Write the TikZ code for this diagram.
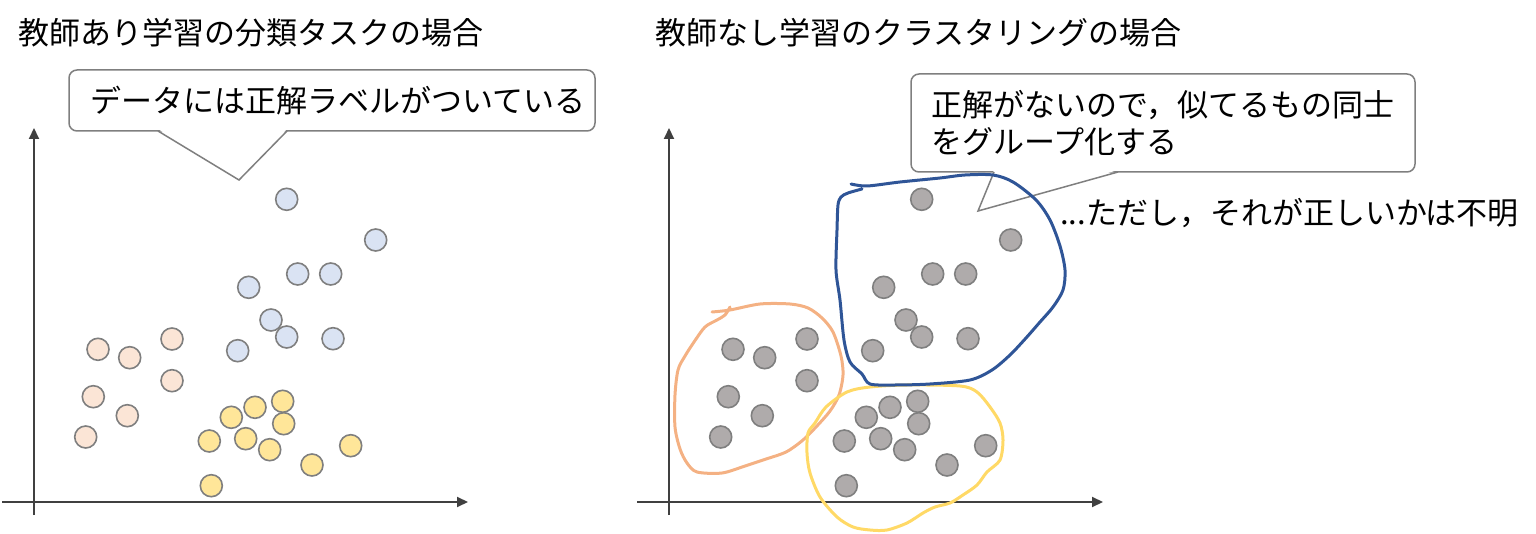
\documentclass[tikz,border=0pt]{standalone}
\usepackage{fontspec}
\setmainfont{Noto Sans CJK JP}
\usepackage{xcolor}
\usepackage{tikz}
\usetikzlibrary{arrows.meta}
\definecolor{axisc}{HTML}{404040}
\definecolor{edge}{HTML}{7F7F7F}
\definecolor{ptblue}{HTML}{DAE3F3}
\definecolor{ptpeach}{HTML}{FBE5D6}
\definecolor{ptyellow}{HTML}{FFE699}
\definecolor{ptgray}{HTML}{AFABAB}
\definecolor{grpblue}{HTML}{2F5597}
\definecolor{grporange}{HTML}{F4B183}
\definecolor{grpyellow}{HTML}{FFD966}
\tikzset{
  ax/.style={draw=axisc, line width=2pt, -{Triangle[length=11pt,width=10pt]}},
  dot/.style={circle, draw=edge, line width=1.6pt, minimum size=22pt, inner sep=0pt},
  say/.style={draw=edge, line width=1.5pt, fill=white, rounded corners=8pt, inner sep=0pt},
  tail/.style={draw=edge, line width=1.5pt, line join=miter},
  lab/.style={text=black, inner sep=0pt},
  grp/.style={line width=3pt, line cap=round, line join=round},
}
% point sets, left panel; the right panel repeats them 635 to the right
\def\bluepts{286.7/199.3, 375.7/240, 297.7/274, 330.7/274, 248.7/287.3, 271/320, 286.7/337, 333/338.7, 237.7/350.7}
\def\peachpts{98/349.3, 129.7/357.7, 172/339, 172/380.7, 93.3/396.7, 127.3/415.7, 85.7/437}
\def\yellowpts{282.7/401.3, 255/407.3, 231.3/417.3, 283.7/423.7, 209.3/441, 245.7/438.7, 269.7/449.7, 350.7/445.7, 312/465, 211.3/485.7}

\begin{document}
\begin{tikzpicture}[x=1pt, y=-1pt, font=\fontsize{31pt}{37pt}\selectfont]
  \useasboundingbox (0,0) rectangle (1536,534);

  % titles
  \node[lab, anchor=west] (Ltitle) at (18,33) {教師あり学習の分類タスクの場合};
  \node[lab, anchor=west] (Rtitle) at (655,33) {教師なし学習のクラスタリングの場合};

  % axes
  \coordinate (Lx0) at (2,502);
  \coordinate (Lx1) at (468,502);
  \coordinate (Ly0) at (34,515);
  \coordinate (Ly1) at (34,128);
  \coordinate (Rx0) at (637,502);
  \coordinate (Rx1) at (1103,502);
  \coordinate (Ry0) at (669,515);
  \coordinate (Ry1) at (669,128);
  \draw[ax] (Lx0) -- (Lx1);
  \draw[ax] (Ly0) -- (Ly1);
  \draw[ax] (Rx0) -- (Rx1);
  \draw[ax] (Ry0) -- (Ry1);

  % left callout
  \node[say, minimum width=526pt, minimum height=61pt] (Lsay) at (332,100.5) {\hspace*{12pt}データには正解ラベルがついている};
  \coordinate (Lt1) at (158,131);
  \coordinate (Ltip) at (239,180);
  \coordinate (Lt2) at (287,131);
  \fill[white] (158,129) -- (Ltip) -- (287,129) -- cycle;
  \draw[tail] (Lt1) -- (Ltip) -- (Lt2);

  % right callout
  \node[say, minimum width=504pt, minimum height=98pt, align=left] (Rsay) at (1163,123) {正解がないので，似てるもの同士\\をグループ化する};
  \coordinate (Rt1) at (994,172);
  \coordinate (Rtip) at (978,211);
  \coordinate (Rt2) at (1118,172);
  \fill[white] (994,170) -- (Rtip) -- (1118,170) -- cycle;
  \draw[tail] (Rt1) -- (Rtip) -- (Rt2);

  \node[lab, anchor=west] (note) at (1060,213) {...ただし，それが正しいかは不明};

  % labelled data
  \foreach \x/\y [count=\i] in \bluepts
    \node[dot, fill=ptblue] (Lb\i) at (\x,\y) {};
  \foreach \x/\y [count=\i] in \peachpts
    \node[dot, fill=ptpeach] (Lp\i) at (\x,\y) {};
  \foreach \x/\y [count=\i] in \yellowpts
    \node[dot, fill=ptyellow] (Ly\i) at (\x,\y) {};

  % unlabelled data
  \foreach \x/\y [count=\i] in \bluepts
    \node[dot, fill=ptgray] (Rb\i) at (\x+635,\y) {};
  \foreach \x/\y [count=\i] in \peachpts
    \node[dot, fill=ptgray] (Rp\i) at (\x+635,\y) {};
  \foreach \x/\y [count=\i] in \yellowpts
    \node[dot, fill=ptgray] (Ry\i) at (\x+635,\y) {};

  % hand drawn groups
  \draw[grp, grporange] plot[smooth, tension=0.5] coordinates {
    (712,312) (730,310) (760,304) (790,304) (808,308) (822,318) (833,332)
    (841,356) (843,375) (839,395) (830,411) (816,427) (803,440) (786,452)
    (763,460) (745,466) (722,473) (697,472) (687,463) (680,449) (675,427)
    (675,395) (678,370) (685,356) (694,342) (705,327) (717,320) (725,315) (730,307)};
  \draw[grp, grpyellow] plot[smooth cycle, tension=0.5] coordinates {
    (826,407) (847,392) (870,387) (907,385) (960,386) (977,392) (990,407)
    (1000,423) (1003,440) (1000,460) (987,472) (977,485) (963,495) (950,503)
    (935,507) (923,513) (907,523) (887,530) (870,530) (853,527) (837,517)
    (820,497) (810,473) (807,453) (808,433) (815,423)};
  \draw[grp, grpblue] plot[smooth, tension=0.5] coordinates {
    (851,184) (867,186) (900,182) (940,178) (965,175) (993,175) (1013,182)
    (1036,200) (1050,220) (1060,246) (1065,270) (1063,290) (1053,307)
    (1040,322) (1026,338) (1010,355) (992,370) (970,380) (930,384) (895,385)
    (870,384) (862,374) (850,362) (844,340) (840,300) (836,270) (837,230)
    (838,205) (841,197) (848,193) (862,189)};
\end{tikzpicture}
\end{document}
